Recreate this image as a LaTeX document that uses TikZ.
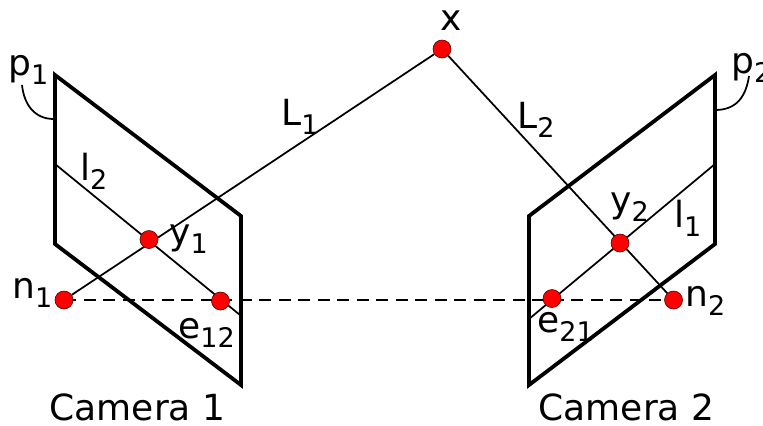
\documentclass[tikz,border=0pt]{standalone}
\usepackage{fontspec}
\setmainfont{DejaVu Sans}
\newcommand{\lsub}[1]{\raisebox{-9bp}{\fontsize{27bp}{30bp}\selectfont #1}}
\pgfdeclarelayer{back}
\pgfsetlayers{back,main}
\tikzset{
  pt/.style={circle,draw=black!70!red,fill=red,line width=0.6bp,minimum size=18bp,inner sep=0pt},
  lab/.style={inner sep=0pt,font=\fontsize{36bp}{41bp}\selectfont,anchor=base west},
  plane/.style={line width=3.8bp,line join=miter},
  ln/.style={line width=1.75bp}
}
\begin{document}
\begin{tikzpicture}[x=1bp,y=-1bp]
\useasboundingbox (0,0) rectangle (763,425);
\coordinate (a1) at (55,75); \coordinate (b1) at (241,216); \coordinate (c1) at (241,385); \coordinate (d1) at (55,244);
\coordinate (a2) at (715,75); \coordinate (b2) at (529,216); \coordinate (c2) at (529,385); \coordinate (d2) at (715,244);
\coordinate (l2s) at (55,164); \coordinate (l2e) at (240,315);
\coordinate (l1s) at (715,164); \coordinate (l1e) at (529,319);
\coordinate (p1c) at (22,85); \coordinate (p2c) at (749,76);
\coordinate (p1e) at (54,119); \coordinate (p2e) at (715,110);
\node[pt] (x) at (442,49) {};
\node[pt] (n1) at (64,300) {};
\node[pt] (n2) at (673.5,300) {};
\node[pt] (y1) at (149,239.5) {};
\node[pt] (y2) at (620,243) {};
\node[pt] (e12) at (220.5,301) {};
\node[pt] (e21) at (552,298.5) {};
\begin{pgfonlayer}{back}
\draw[ln] (l2s) -- (l2e);
\draw[ln] (l1s) -- (l1e);
\draw[plane] (a1) -- (b1) -- (c1) -- (d1) -- cycle;
\draw[plane] (a2) -- (b2) -- (c2) -- (d2) -- cycle;
\draw[ln] (p1c) .. controls (24,104) and (34,119) .. (p1e);
\draw[ln] (p2c) .. controls (746,96) and (737,110) .. (p2e);
\draw[ln] (x) -- (n1);
\draw[ln] (x) -- (n2);
\draw[ln,dash pattern=on 12bp off 7.5bp] (n1.center) -- (n2.center);
\end{pgfonlayer}
\node[lab] at (440,30) {x};
\node[lab] at (281,125) {L\lsub{1}};
\node[lab] at (517,128) {L\lsub{2}};
\node[lab] at (8,75) {p\lsub{1}};
\node[lab] at (731,73) {p\lsub{2}};
\node[lab] at (80,180) {l\lsub{2}};
\node[lab] at (674,227) {l\lsub{1}};
\node[lab] at (169,244) {y\lsub{1}};
\node[lab] at (610,212) {y\lsub{2}};
\node[lab] at (12,298) {n\lsub{1}};
\node[lab] at (685,306) {n\lsub{2}};
\node[lab] at (178,338) {e\lsub{12}};
\node[lab] at (537,332) {e\lsub{21}};
\node[lab] at (49.5,420) {Camera 1};
\node[lab] at (538.5,420) {Camera 2};
\end{tikzpicture}
\end{document}
